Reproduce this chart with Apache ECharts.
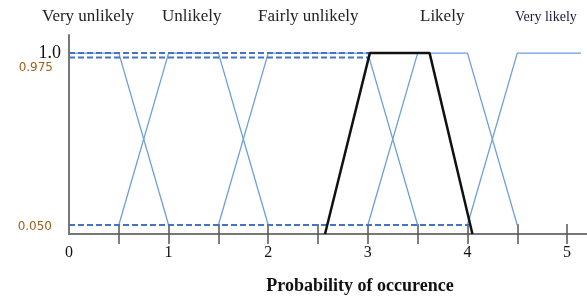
<!DOCTYPE html>
<html>
<head>
<meta charset="utf-8">
<script src="https://cdn.jsdelivr.net/npm/echarts@6/dist/echarts.min.js"></script>
<style>
  html, body { margin: 0; padding: 0; background: #fff; }
  #main { width: 587px; height: 300px; }
</style>
</head>
<body>
<div id="main"></div>
<script>
// membership functions (x = probability, y = membership)
var veryUnlikely   = [[0, 1], [0.5, 1], [1, 0.05]];
var unlikely       = [[0.5, 0.05], [1, 1], [1.5, 1], [2, 0.05]];
var fairlyUnlikely = [[1.5, 0.05], [2, 1], [3, 1], [3.5, 0.05]];
var likely         = [[3, 0.05], [3.5, 1], [4, 1], [4.5, 0.05]];
var veryLikely     = [[4, 0.05], [4.5, 1], [5.14, 1]];
// aggregated result (black)
var result = [[2.57, 0], [3.02, 1], [3.62, 1], [4.05, 0]];
// alpha cuts (dashed)
var cut100 = [[0, 1], [3.62, 1]];
var cut975 = [[0, 0.975], [3.01, 0.975]];
var cut050 = [[0, 0.05], [4.03, 0.05]];

var xTicks = [0.5, 1, 1.5, 2, 2.5, 3, 3.5, 4, 4.5, 5];
var xLabels = [0, 1, 2, 3, 4, 5];
var yLabels = [0.05, 0.975];
var yTopLabel = [1];
var termNames = ['Very unlikely', 'Unlikely', 'Fairly unlikely', 'Likely', 'Very likely'];

var serif = 'Liberation Serif';
var blue = '#6f9fd8';
var dashBlue = '#4472c4';

var myChart = echarts.init(document.getElementById('main'));

function solid(data) {
    return { type: 'line', data: data, symbol: 'none', silent: true,
        lineStyle: { color: blue, width: 1.3 } };
}
function dashed(data) {
    return { type: 'line', data: data, symbol: 'none', silent: true,
        lineStyle: { color: dashBlue, width: 2, type: [6, 3] } };
}

var option = {
    animation: false,
    grid: { left: 69, right: 0, top: 35, bottom: 62 },
    graphic: [
        { type: 'text', left: 42, top: 8, style: { text: termNames[0], font: '17px "' + serif + '"', fill: '#222' } },
        { type: 'text', left: 162, top: 8, style: { text: termNames[1], font: '17px "' + serif + '"', fill: '#222' } },
        { type: 'text', left: 258, top: 8, style: { text: termNames[2], font: '17px "' + serif + '"', fill: '#222' } },
        { type: 'text', left: 420, top: 8, style: { text: termNames[3], font: '17px "' + serif + '"', fill: '#222' } },
        { type: 'text', left: 515, top: 10, style: { text: termNames[4], font: '14px "' + serif + '"', fill: '#1a1a3a' } }
    ],
    xAxis: [
        {
            type: 'value', min: 0, max: 5.2,
            axisLine: { show: true, lineStyle: { color: '#777', width: 2 } },
            splitLine: { show: false },
            axisTick: { show: true, customValues: xTicks, length: 10, lineStyle: { color: '#555', width: 1.5 } },
            axisLabel: { customValues: xLabels, margin: 11, fontFamily: serif, fontSize: 16, color: '#111' },
            name: 'Probability of occurence',
            nameLocation: 'middle',
            nameGap: 43,
            nameTextStyle: { fontFamily: serif, fontSize: 18, fontWeight: 'bold', color: '#111', padding: [0, 0, 0, 64] }
        },
        {
            type: 'value', min: 0, max: 5.2, position: 'bottom',
            axisLine: { show: false },
            splitLine: { show: false },
            axisTick: { show: true, inside: true, customValues: xTicks, length: 10, lineStyle: { color: '#555', width: 1.5 } },
            axisLabel: { show: false }
        }
    ],
    yAxis: [
        {
            type: 'value', min: 0, max: 1.1,
            axisLine: { show: true, lineStyle: { color: '#777', width: 2 } },
            splitLine: { show: false },
            axisTick: { show: false },
            axisLabel: {
                customValues: yLabels,
                margin: 8,
                formatter: function (v) {
                    return v > 0.5 ? '{b|0.975}' : '{c|0.050}';
                },
                rich: {
                    b: { fontFamily: 'DejaVu Sans', fontSize: 12, color: '#a0601a', padding: [20, 8, 0, 0] },
                    c: { fontFamily: 'DejaVu Sans', fontSize: 12, color: '#a0601a', padding: [3, 9, 0, 0] }
                }
            }
        },
        {
            type: 'value', min: 0, max: 1.1, position: 'left', offset: 0,
            axisLine: { show: false },
            splitLine: { show: false },
            axisTick: { show: false },
            axisLabel: {
                customValues: yTopLabel,
                margin: 8,
                formatter: function () { return '1.0'; },
                fontFamily: serif, fontSize: 18, color: '#111'
            }
        }
    ],
    series: [
        solid(veryUnlikely),
        solid(unlikely),
        solid(fairlyUnlikely),
        solid(likely),
        solid(veryLikely),
        dashed(cut100),
        dashed(cut975),
        dashed(cut050),
        { type: 'line', data: result, symbol: 'none', silent: true,
            lineStyle: { color: '#111', width: 2.5 } }
    ]
};
myChart.setOption(option);
</script>
</body>
</html>
